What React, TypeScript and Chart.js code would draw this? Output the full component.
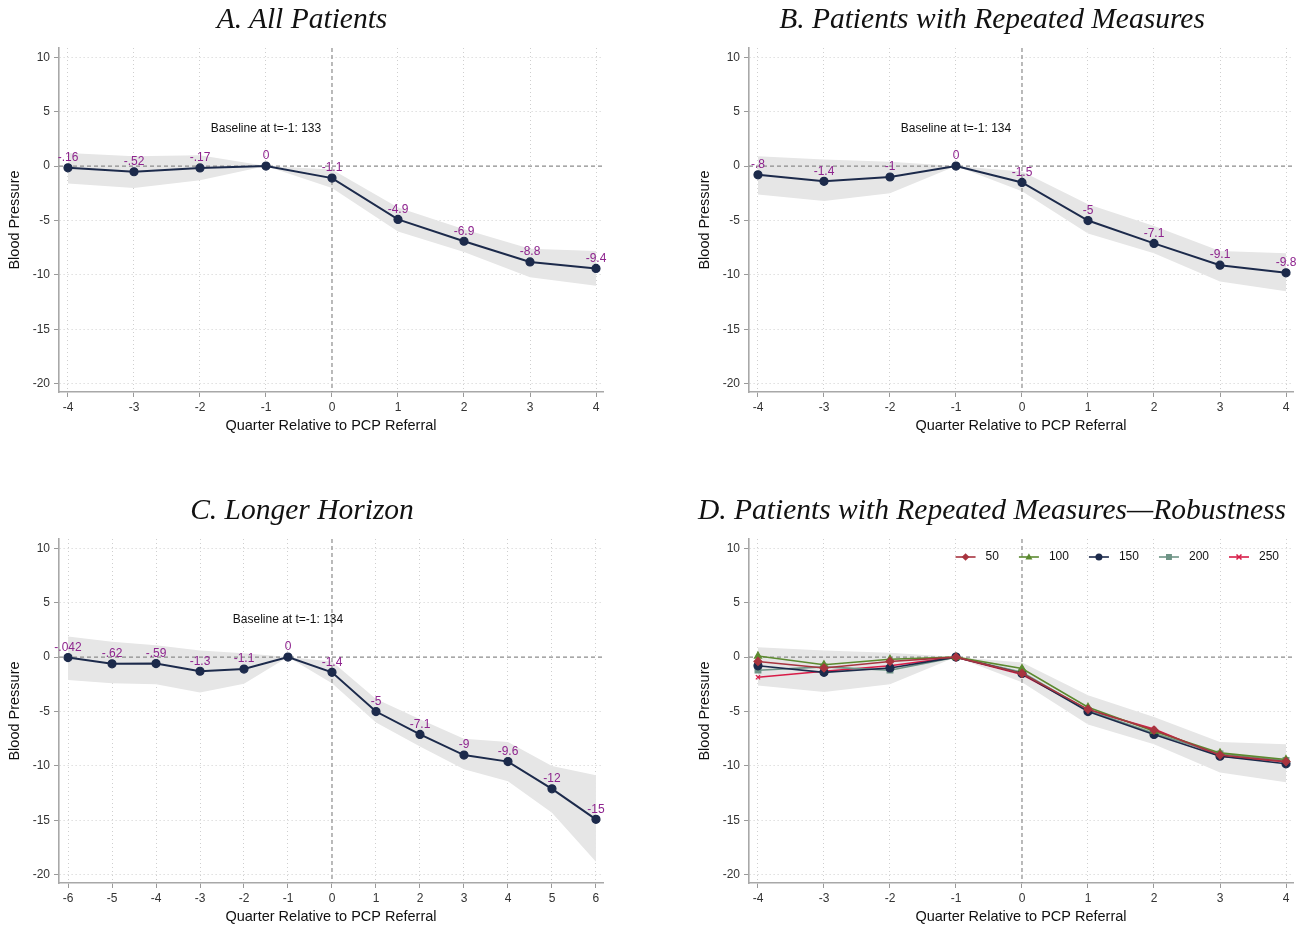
import React, { useEffect, useRef } from 'react';
import { Chart, registerables } from 'chart.js';

Chart.register(...registerables);

// ---------- data ----------
const quartersShort = [-4, -3, -2, -1, 0, 1, 2, 3, 4];
const quartersLong = [-6, -5, -4, -3, -2, -1, 0, 1, 2, 3, 4, 5, 6];
const yTickValues = [-20, -15, -10, -5, 0, 5, 10];

const allValues = [-0.16, -0.52, -0.17, 0, -1.1, -4.9, -6.9, -8.8, -9.4];
const allLabels = ['-.16', '-.52', '-.17', '0', '-1.1', '-4.9', '-6.9', '-8.8', '-9.4'];
const allUpper = [1.2, 0.9, 1.0, 0, -0.3, -3.8, -5.8, -7.6, -7.8];
const allLower = [-1.6, -2.0, -1.3, 0, -2.0, -6.0, -7.9, -10.2, -11.0];

const repValues = [-0.8, -1.4, -1.0, 0, -1.5, -5.0, -7.1, -9.1, -9.8];
const repLabels = ['-.8', '-1.4', '-1', '0', '-1.5', '-5', '-7.1', '-9.1', '-9.8'];
const repUpper = [0.9, 0.6, 0.4, 0, -0.5, -3.5, -5.5, -7.8, -8.0];
const repLower = [-2.6, -3.2, -2.5, 0, -2.3, -6.2, -8.0, -10.6, -11.5];

const longValues = [-0.042, -0.62, -0.59, -1.3, -1.1, 0, -1.4, -5.0, -7.1, -9.0, -9.6, -12.1, -14.9];
const longLabels = ['-.042', '-.62', '-.59', '-1.3', '-1.1', '0', '-1.4', '-5', '-7.1', '-9', '-9.6', '-12', '-15'];
const longUpper = [1.9, 1.4, 1.1, 0.6, 0.35, 0, -0.4, -3.85, -5.7, -7.5, -7.8, -10.0, -10.85];
const longLower = [-2.1, -2.4, -2.5, -3.25, -2.45, 0, -2.4, -6.0, -8.2, -10.3, -11.4, -14.3, -18.8];

const robust50 = [-0.4, -1.0, -0.4, 0, -1.5, -4.8, -6.7, -9.0, -9.6];
const robust100 = [0.1, -0.7, -0.2, 0, -1.05, -4.6, -6.8, -8.8, -9.4];
const robust150 = [-0.8, -1.4, -1.0, 0, -1.5, -5.0, -7.1, -9.1, -9.8];
const robust200 = [-1.2, -0.9, -1.2, 0, -1.4, -4.9, -7.0, -8.9, -9.5];
const robust250 = [-1.85, -1.3, -0.8, 0, -1.6, -4.85, -6.6, -9.1, -9.6];

// ---------- styling ----------
const FONT = "'Liberation Sans', Arial, Helvetica, sans-serif";
const NAVY = '#1c2a4b';
const LABEL_PURPLE = '#8e248e';
const BAND = '#e6e6e6';
const CANVAS_W = 610;
const CANVAS_H = 436;

type Series = {
  label: string;
  data: number[];
  color: string;
  pointStyle: string;
  radius: number;
  width: number;
};

type PanelSpec = {
  title: string;
  left: number;
  top: number;
  xs: number[];
  xMin: number;
  xMax: number;
  series: Series[];
  upper: number[];
  lower: number[];
  valueLabels?: string[];
  baseline?: string;
  legend?: boolean;
};

function drawMarker(ctx: CanvasRenderingContext2D, style: string, x: number, y: number, r: number, color: string) {
  ctx.save();
  ctx.fillStyle = color;
  ctx.strokeStyle = color;
  ctx.lineWidth = 1.5;
  ctx.beginPath();
  if (style === 'circle') {
    ctx.arc(x, y, r, 0, Math.PI * 2);
    ctx.fill();
  } else if (style === 'triangle') {
    ctx.moveTo(x, y - r * 1.1);
    ctx.lineTo(x + r, y + r * 0.7);
    ctx.lineTo(x - r, y + r * 0.7);
    ctx.closePath();
    ctx.fill();
  } else if (style === 'rectRot') {
    ctx.moveTo(x, y - r * 1.1);
    ctx.lineTo(x + r * 1.1, y);
    ctx.lineTo(x, y + r * 1.1);
    ctx.lineTo(x - r * 1.1, y);
    ctx.closePath();
    ctx.fill();
  } else if (style === 'rect') {
    ctx.rect(x - r * 0.85, y - r * 0.85, r * 1.7, r * 1.7);
    ctx.fill();
  } else {
    ctx.moveTo(x - r, y - r);
    ctx.lineTo(x + r, y + r);
    ctx.moveTo(x + r, y - r);
    ctx.lineTo(x - r, y + r);
    ctx.stroke();
  }
  ctx.restore();
}

function buildChart(canvas: HTMLCanvasElement, p: PanelSpec) {
  const datasets: any[] = p.series.map((s) => ({
    label: s.label,
    data: p.xs.map((x, i) => ({ x, y: s.data[i] })),
    borderColor: s.color,
    backgroundColor: s.color,
    pointBackgroundColor: s.color,
    pointBorderColor: s.color,
    pointStyle: s.pointStyle,
    pointRadius: s.radius,
    pointBorderWidth: 1.2,
    borderWidth: s.width,
    fill: false,
    tension: 0,
  }));
  const upperIndex = datasets.length;
  datasets.push({
    label: 'ci-upper',
    data: p.xs.map((x, i) => ({ x, y: p.upper[i] })),
    borderWidth: 0,
    borderColor: 'rgba(0,0,0,0)',
    pointRadius: 0,
    backgroundColor: BAND,
    fill: '+1',
    tension: 0,
  });
  datasets.push({
    label: 'ci-lower',
    data: p.xs.map((x, i) => ({ x, y: p.lower[i] })),
    borderWidth: 0,
    borderColor: 'rgba(0,0,0,0)',
    pointRadius: 0,
    fill: false,
    tension: 0,
  });

  const gridColor = (c: any) => (c.tick && c.tick.value === 0 ? 'rgba(0,0,0,0)' : '#cfcfcf');

  const overlay = {
    id: 'overlay',
    afterDatasetDraw(chart: any, args: any) {
      if (args.index !== upperIndex) return;
      const { ctx, chartArea } = chart;
      const xs = chart.scales.x;
      const ys = chart.scales.y;
      const y0 = ys.getPixelForValue(0);
      const x0 = xs.getPixelForValue(0);
      ctx.save();
      ctx.strokeStyle = '#8c8c8c';
      ctx.lineWidth = 1.2;
      ctx.setLineDash([4, 3]);
      ctx.beginPath();
      ctx.moveTo(chartArea.left, y0);
      ctx.lineTo(chartArea.right, y0);
      ctx.moveTo(x0, chartArea.top);
      ctx.lineTo(x0, chartArea.bottom);
      ctx.stroke();
      ctx.restore();
    },
    afterDatasetsDraw(chart: any) {
      const { ctx, chartArea } = chart;
      const xs = chart.scales.x;
      const ys = chart.scales.y;
      ctx.save();
      if (p.valueLabels) {
        const meta = chart.getDatasetMeta(0);
        ctx.fillStyle = LABEL_PURPLE;
        ctx.font = `12px ${FONT}`;
        ctx.textAlign = 'center';
        ctx.textBaseline = 'middle';
        meta.data.forEach((el: any, i: number) => {
          ctx.fillText(p.valueLabels![i], el.x, el.y - 10);
        });
      }
      if (p.baseline) {
        ctx.fillStyle = '#111';
        ctx.font = `12px ${FONT}`;
        ctx.textAlign = 'center';
        ctx.textBaseline = 'middle';
        ctx.fillText(p.baseline, xs.getPixelForValue(-1), ys.getPixelForValue(3.4));
      }
      if (p.legend) {
        ctx.font = `12px ${FONT}`;
        const lineLen = 20;
        const gapText = 10;
        const gapItem = 20;
        const widths = p.series.map((s) => lineLen + gapText + ctx.measureText(s.label).width);
        const total = widths.reduce((a, b) => a + b, 0) + gapItem * (p.series.length - 1);
        let x = chartArea.right - 14 - total;
        const y = chartArea.top + 18;
        p.series.forEach((s, i) => {
          ctx.strokeStyle = s.color;
          ctx.lineWidth = s.width;
          ctx.beginPath();
          ctx.moveTo(x, y);
          ctx.lineTo(x + lineLen, y);
          ctx.stroke();
          drawMarker(ctx, s.pointStyle, x + lineLen / 2, y, s.pointStyle === 'crossRot' ? 2.5 : 3.5, s.color);
          ctx.fillStyle = '#111';
          ctx.textAlign = 'left';
          ctx.textBaseline = 'middle';
          ctx.fillText(s.label, x + lineLen + gapText, y);
          x += widths[i] + gapItem;
        });
      }
      ctx.restore();
    },
  };

  return new Chart(canvas, {
    type: 'line',
    data: { datasets },
    plugins: [overlay],
    options: {
      animation: false,
      responsive: false,
      devicePixelRatio: 1,
      layout: { padding: { top: 48, right: CANVAS_W - 603, bottom: 0, left: 0 } },
      plugins: {
        legend: { display: false },
        title: { display: false },
        tooltip: { enabled: false },
      },
      scales: {
        x: {
          type: 'linear',
          min: p.xMin,
          max: p.xMax,
          afterBuildTicks: (s: any) => {
            s.ticks = p.xs.map((v) => ({ value: v }));
          },
          afterFit: (s: any) => {
            s.height = CANVAS_H - 392;
          },
          grid: {
            color: gridColor,
            lineWidth: 1,
            drawTicks: true,
            tickLength: 5,
            tickColor: '#9a9a9a',
            tickWidth: 1,
          },
          border: { display: true, color: '#a8a8a8', width: 1.6, dash: [1, 3] },
          ticks: {
            color: '#333',
            font: { family: FONT, size: 12 },
            padding: 3,
            maxRotation: 0,
            autoSkip: false,
            callback: (v: any) => String(v),
          },
          title: {
            display: true,
            text: 'Quarter Relative to PCP Referral',
            color: '#111',
            font: { family: FONT, size: 14.5 },
            padding: { top: 0, bottom: 1.5 },
          },
        },
        y: {
          type: 'linear',
          min: -20.75,
          max: 10.85,
          afterBuildTicks: (s: any) => {
            s.ticks = yTickValues.map((v) => ({ value: v }));
          },
          afterFit: (s: any) => {
            s.width = 59;
          },
          grid: {
            color: gridColor,
            lineWidth: 1,
            drawTicks: true,
            tickLength: 5,
            tickColor: '#9a9a9a',
            tickWidth: 1,
          },
          border: { display: true, color: '#a8a8a8', width: 1.6, dash: [1, 3] },
          ticks: {
            color: '#333',
            font: { family: FONT, size: 12 },
            padding: 4,
            autoSkip: false,
            callback: (v: any) => String(v),
          },
          title: {
            display: true,
            text: 'Blood Pressure',
            color: '#111',
            font: { family: FONT, size: 14.5 },
            padding: { top: 6.5, bottom: 0 },
          },
        },
      },
    } as any,
  });
}

const navySeries = (data: number[]): Series[] => [
  { label: '', data, color: NAVY, pointStyle: 'circle', radius: 4, width: 2 },
];

const panels: PanelSpec[] = [
  {
    title: 'A. All Patients',
    left: 0,
    top: 0,
    xs: quartersShort,
    xMin: -4.136,
    xMax: 4.106,
    series: navySeries(allValues),
    upper: allUpper,
    lower: allLower,
    valueLabels: allLabels,
    baseline: 'Baseline at t=-1: 133',
  },
  {
    title: 'B. Patients with Repeated Measures',
    left: 690,
    top: 0,
    xs: quartersShort,
    xMin: -4.136,
    xMax: 4.106,
    series: navySeries(repValues),
    upper: repUpper,
    lower: repLower,
    valueLabels: repLabels,
    baseline: 'Baseline at t=-1: 134',
  },
  {
    title: 'C. Longer Horizon',
    left: 0,
    top: 491,
    xs: quartersLong,
    xMin: -6.205,
    xMax: 6.16,
    series: navySeries(longValues),
    upper: longUpper,
    lower: longLower,
    valueLabels: longLabels,
    baseline: 'Baseline at t=-1: 134',
  },
  {
    title: 'D. Patients with Repeated Measures\u2014Robustness',
    left: 690,
    top: 491,
    xs: quartersShort,
    xMin: -4.136,
    xMax: 4.106,
    series: [
      { label: '50', data: robust50, color: '#a8343f', pointStyle: 'rectRot', radius: 4, width: 1.6 },
      { label: '100', data: robust100, color: '#5c8a30', pointStyle: 'triangle', radius: 4, width: 1.6 },
      { label: '150', data: robust150, color: NAVY, pointStyle: 'circle', radius: 4, width: 1.6 },
      { label: '200', data: robust200, color: '#6e9486', pointStyle: 'rect', radius: 4, width: 1.6 },
      { label: '250', data: robust250, color: '#d81c48', pointStyle: 'crossRot', radius: 3, width: 1.6 },
    ],
    upper: repUpper,
    lower: repLower,
    legend: true,
  },
];

function Panel({ spec }: { spec: PanelSpec }) {
  const ref = useRef<HTMLCanvasElement | null>(null);
  useEffect(() => {
    if (!ref.current) return;
    const chart = buildChart(ref.current, spec);
    return () => chart.destroy();
  }, [spec]);
  return (
    <div style={{ position: 'absolute', left: spec.left, top: spec.top, width: CANVAS_W, height: CANVAS_H }}>
      <canvas
        ref={ref}
        width={CANVAS_W}
        height={CANVAS_H}
        style={{ position: 'absolute', left: 0, top: 0, width: CANVAS_W, height: CANVAS_H }}
      />
      <div
        style={{
          position: 'absolute',
          left: 0,
          top: 1,
          width: 604,
          textAlign: 'center',
          fontFamily: "'Liberation Serif', 'Times New Roman', serif",
          fontStyle: 'italic',
          fontSize: 29.5,
          lineHeight: '34px',
          color: '#111',
          whiteSpace: 'nowrap',
        }}
      >
        {spec.title}
      </div>
    </div>
  );
}

export default function App() {
  return (
    <div style={{ position: 'absolute', left: 0, top: 0, width: 1303, height: 928, background: '#fff', overflow: 'hidden' }}>
      {panels.map((p) => (
        <Panel key={p.title} spec={p} />
      ))}
    </div>
  );
}
